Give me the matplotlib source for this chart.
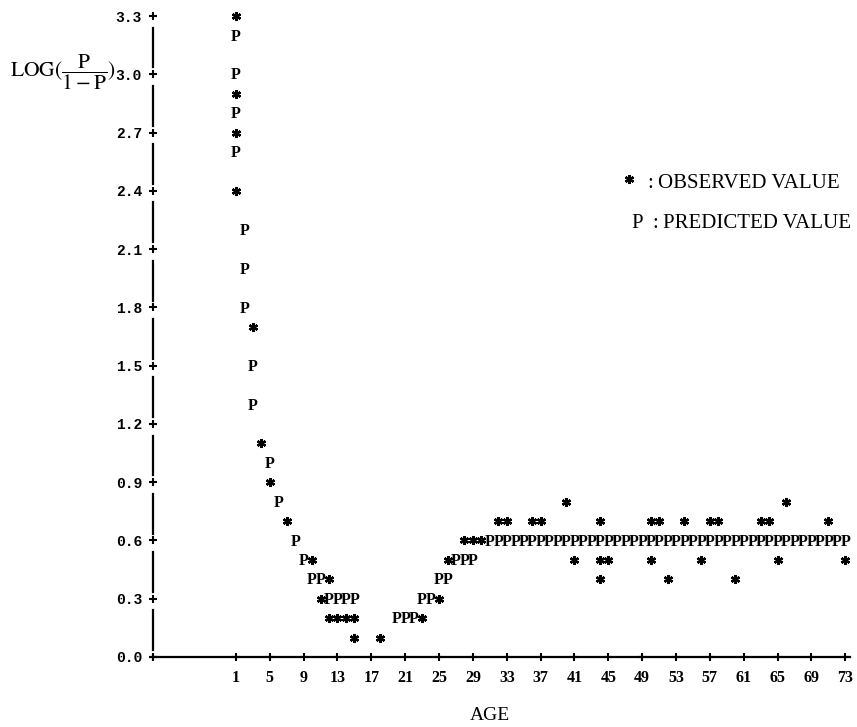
import matplotlib
matplotlib.use("Agg")
import matplotlib.pyplot as plt
from matplotlib.transforms import offset_copy

plt.rcParams['mathtext.fontset'] = 'stix'

# observed values (*)
obs_age = [1, 1, 1, 1, 3, 4, 5, 7, 10, 11, 12, 12, 13, 14, 15, 15, 18,
           23, 25, 26, 28, 29, 30,
           32, 33, 36, 37, 44, 50, 51, 54, 57, 58, 63, 64, 71,
           40, 66,
           41, 44, 45, 50, 56, 65, 73,
           44, 52, 60]
obs_val = [3.3, 2.9, 2.7, 2.4, 1.7, 1.1, 0.9, 0.7, 0.5, 0.3, 0.4, 0.2, 0.2, 0.2, 0.2, 0.1, 0.1,
           0.2, 0.3, 0.5, 0.6, 0.6, 0.6,
           0.7, 0.7, 0.7, 0.7, 0.7, 0.7, 0.7, 0.7, 0.7, 0.7, 0.7, 0.7, 0.7,
           0.8, 0.8,
           0.5, 0.5, 0.5, 0.5, 0.5, 0.5, 0.5,
           0.4, 0.4, 0.4]

# predicted values (P)
pred_age = [1, 1, 1, 1, 2, 2, 2, 3, 3, 5, 6, 8, 9, 10, 11, 12, 13, 14, 15,
            20, 21, 22, 23, 24, 25, 26, 27, 28, 29,
            31, 32, 33, 34, 35, 36, 37, 38, 39, 40, 41, 42, 43, 44, 45, 46, 47, 48, 49, 50, 51, 52,
            53, 54, 55, 56, 57, 58, 59, 60, 61, 62, 63, 64, 65, 66, 67, 68, 69, 70, 71, 72, 73]
pred_val = [3.2, 3.0, 2.8, 2.6, 2.2, 2.0, 1.8, 1.5, 1.3, 1.0, 0.8, 0.6, 0.5, 0.4, 0.4, 0.3, 0.3, 0.3, 0.3,
            0.2, 0.2, 0.2, 0.3, 0.3, 0.4, 0.4, 0.5, 0.5, 0.5,
            0.6, 0.6, 0.6, 0.6, 0.6, 0.6, 0.6, 0.6, 0.6, 0.6, 0.6, 0.6, 0.6, 0.6, 0.6, 0.6, 0.6, 0.6, 0.6, 0.6, 0.6, 0.6,
            0.6, 0.6, 0.6, 0.6, 0.6, 0.6, 0.6, 0.6, 0.6, 0.6, 0.6, 0.6, 0.6, 0.6, 0.6, 0.6, 0.6, 0.6, 0.6, 0.6, 0.6]

x_ticks = [1, 5, 9, 13, 17, 21, 25, 29, 33, 37, 41, 45, 49, 53, 57, 61, 65, 69, 73]
y_ticks = [0.0, 0.3, 0.6, 0.9, 1.2, 1.5, 1.8, 2.1, 2.4, 2.7, 3.0, 3.3]

W, H = 857, 727
fig = plt.figure(figsize=(W / 100, H / 100), dpi=100)
ax = fig.add_axes([153 / W, 70 / H, 696.5 / W, 641 / H])
x0, x1 = -8.8, 73.5
ax.set_xlim(x0, x1)
ax.set_ylim(0, 3.3)
for s in ax.spines.values():
    s.set_visible(False)

# axes drawn line-printer style
ax.plot([x0, x1], [0, 0], color='k', lw=1.6, clip_on=False)
ax.plot([x0] + x_ticks, [0] * (len(x_ticks) + 1), ls='none', marker='+',
        ms=6, mew=1.5, color='k', clip_on=False)
for lo, hi in zip(y_ticks[:-1], y_ticks[1:]):
    ax.plot([x0, x0], [lo + 0.035, hi - 0.06], color='k', lw=1.6, clip_on=False)
ax.plot([x0] * len(y_ticks), y_ticks, ls='none', marker='+',
        ms=6, mew=1.5, color='k', clip_on=False)

ax.set_xticks(x_ticks, labels=[str(v) for v in x_ticks])
ax.set_yticks(y_ticks, labels=[f"{v:.1f}" for v in y_ticks])
ax.tick_params(axis='x', length=0, pad=9.5)
ax.tick_params(axis='y', length=0, pad=8)
for lbl in ax.get_xticklabels():
    lbl.set_fontfamily('Liberation Serif')
    lbl.set_fontweight('bold')
    lbl.set_fontsize(11.5)
for lbl in ax.get_yticklabels():
    lbl.set_fontfamily('Liberation Mono')
    lbl.set_fontweight('bold')
    lbl.set_fontsize(10.5)

# data marks
ax.plot(obs_age, obs_val, ls='none', marker=(6, 2, 0), ms=6.5, mew=1.7,
        color='k', clip_on=False)
tr = offset_copy(ax.transData, fig=fig, x=0, y=-3.7, units='points')
for a, v in zip(pred_age, pred_val):
    ax.text(a, v, 'P', transform=tr, ha='center', va='baseline',
            fontsize=11.5, fontweight='bold', family='Liberation Serif')

# legend
ax.plot([629 / W], [1 - 179 / H], transform=fig.transFigure, ls='none',
        marker=(6, 2, 0), ms=6.5, mew=1.7, color='k', clip_on=False)
fig.text(650 / W, 1 - 188 / H, ':', fontsize=15, family='Liberation Serif',
         ha='center', va='baseline')
fig.text(658 / W, 1 - 188 / H, 'OBSERVED VALUE', fontsize=15,
         family='Liberation Serif', ha='left', va='baseline')
fig.text(637 / W, 1 - 228 / H, 'P', fontsize=15, family='Liberation Serif',
         ha='center', va='baseline')
fig.text(655 / W, 1 - 228 / H, ':', fontsize=15, family='Liberation Serif',
         ha='center', va='baseline')
fig.text(663 / W, 1 - 228 / H, 'PREDICTED VALUE', fontsize=15,
         family='Liberation Serif', ha='left', va='baseline')

# axis titles
fig.text(490 / W, 1 - 720 / H, 'AGE', fontsize=14, family='Liberation Serif',
         ha='center', va='baseline')
fig.text(10 / W, 1 - 72 / H, r'$\mathrm{LOG}(\dfrac{\mathrm{P}}{1-\mathrm{P}})$',
         fontsize=15.5, ha='left', va='center')

fig.savefig('out.png', dpi=100)
